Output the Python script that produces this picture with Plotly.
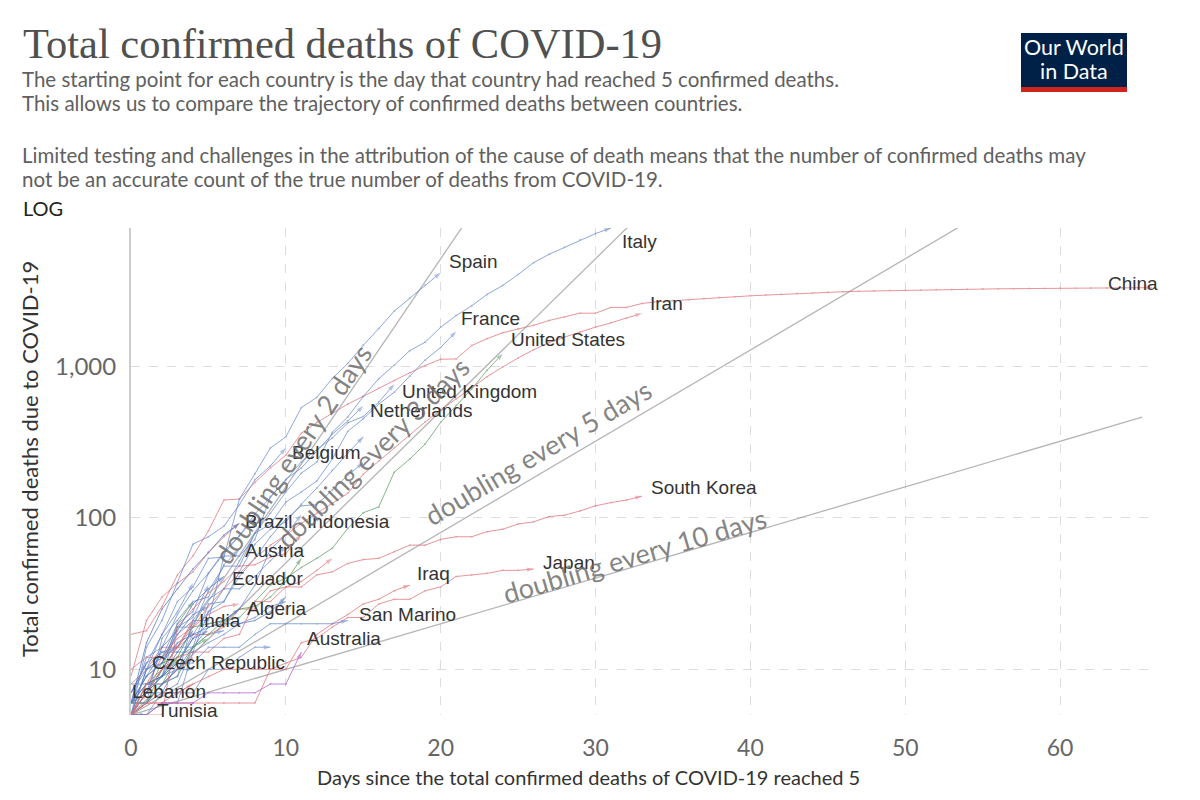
import math
import plotly.graph_objects as go

# ---------------- data (days since 5th confirmed death -> total deaths) ----------------
CHINA = [17, 18, 26, 42, 56, 82, 131, 133, 171, 213, 259, 361, 425, 491, 563, 633, 718, 805, 905, 1012,
         1112, 1117, 1369, 1521, 1663, 1766, 1864, 2003, 2116, 2238, 2238, 2443, 2445, 2595, 2665, 2717,
         2746, 2790, 2837, 2872, 2914, 2947, 2983, 3015, 3044, 3072, 3100, 3123, 3139, 3161, 3172, 3180,
         3193, 3203, 3217, 3230, 3241, 3249, 3253, 3259, 3274, 3274, 3281, 3285, 3291, 3296, 3299]
ITALY = [7, 10, 12, 17, 21, 29, 34, 52, 79, 107, 148, 197, 233, 366, 463, 631, 827, 1016, 1266, 1441,
         1809, 2158, 2503, 2978, 3405, 4032, 4825, 5476, 6077, 6820, 7503, 8165]
SPAIN = [5, 10, 17, 28, 35, 54, 55, 133, 195, 289, 342, 533, 623, 830, 1043, 1375, 1772, 2311, 2808, 3434, 4145]
FRANCE = [6, 9, 11, 19, 19, 33, 48, 48, 79, 91, 127, 148, 175, 244, 372, 450, 562, 674, 860, 1100, 1331, 1696]
UNITED_STATES = [6, 7, 11, 12, 14, 17, 21, 22, 28, 36, 40, 47, 54, 63, 85, 108, 118, 200, 244, 307, 427,
                 552, 706, 942, 1209]
IRAN = [5, 8, 12, 16, 19, 26, 34, 43, 54, 66, 77, 92, 107, 124, 145, 194, 237, 291, 354, 429, 514, 611,
        724, 853, 988, 1135, 1284, 1433, 1556, 1685, 1812, 1934, 2077, 2234]
UNITED_KINGDOM = [6, 8, 8, 9, 21, 21, 56, 56, 72, 138, 178, 234, 282, 336, 423, 466, 580, 761]
NETHERLANDS = [5, 10, 12, 20, 24, 43, 58, 76, 106, 136, 179, 213, 276, 356, 435, 546]
BELGIUM = [5, 14, 21, 37, 67, 75, 88, 122, 178, 220, 289]
BRAZIL = [6, 15, 25, 34, 46, 59, 77, 92]
INDONESIA = [5, 5, 5, 19, 25, 32, 38, 48, 49, 55, 58, 78]
AUSTRIA = [5, 6, 16, 21, 28, 30, 49, 62]
ECUADOR = [5, 7, 14, 18, 27, 34, 41]
IRAQ = [5, 6, 6, 7, 8, 9, 10, 10, 10, 10, 11, 12, 17, 20, 23, 27, 29, 33, 36]
JAPAN = [5, 6, 6, 6, 6, 6, 6, 6, 6, 10, 10, 15, 16, 19, 22, 22, 27, 29, 29, 33, 35, 41, 42, 43, 45, 45, 46]
SOUTH_KOREA = [5, 8, 10, 12, 13, 13, 16, 17, 28, 28, 35, 35, 42, 44, 50, 53, 54, 60, 66, 66, 72, 75, 75,
               81, 84, 91, 94, 102, 104, 111, 120, 126, 131, 139]
ALGERIA = [6, 9, 11, 15, 17, 19, 21, 25]
SAN_MARINO = [5, 7, 7, 11, 11, 14, 14, 14, 17, 20, 20, 20, 20, 20, 21]
INDIA = [5, 7, 10, 14, 21]
AUSTRALIA = [5, 5, 6, 6, 6, 7, 7, 7, 7, 8, 8, 13]
CZECH_REPUBLIC = [7, 11]
LEBANON = [5, 7]
TUNISIA = [5, 5]
# unlabelled countries
GERMANY = [6, 8, 9, 11, 17, 24, 28, 44, 67, 84, 94, 123, 157, 206, 267, 342]
SWITZERLAND = [7, 11, 13, 14, 14, 27, 28, 41, 54, 75, 98, 120, 122, 153, 191, 231]
SWEDEN = [6, 7, 10, 11, 16, 20, 21, 25, 36, 62, 77, 105]
PORTUGAL = [6, 12, 14, 23, 33, 43, 60, 76, 100]
DENMARK = [6, 9, 13, 13, 13, 24, 34, 34, 41, 52, 65]
GREECE = [5, 5, 6, 6, 13, 15, 17, 20, 22, 26, 28]
NORWAY = [5, 6, 7, 7, 7, 10, 10, 12, 14, 14]
IRELAND = [6, 7, 9, 19, 22, 36]
LUXEMBOURG = [8, 8, 9, 15]
POLAND = [5, 5, 7, 8, 14, 17, 18]
ROMANIA = [7, 11, 17, 24, 37]
HUNGARY = [6, 7, 9, 10, 10]
TURKEY = [9, 21, 30, 37, 44, 59, 75, 92]
PHILIPPINES = [10, 12, 12, 14, 17, 17, 19, 25, 25, 33, 35, 38, 45, 54]
MALAYSIA = [8, 10, 14, 14, 19, 23, 26, 27]
ISRAEL = [5, 8, 8, 10, 12]
PAKISTAN = [5, 6, 7, 7, 8]
CANADA = [5, 8, 9, 12, 19, 20, 21, 25, 26, 30, 38, 54]
DOMINICAN_REPUBLIC = [6, 6, 10, 20, 28]
PANAMA = [6, 6, 8, 9, 14, 16]
MEXICO = [5, 6, 8, 12]
ARGENTINA = [6, 8, 9, 13, 18]
PERU = [5, 7, 9, 11, 16, 18]
EGYPT = [6, 6, 8, 10, 14, 19, 20, 20, 21, 24, 30]
MOROCCO = [5, 10, 11, 17, 23, 26]

DOUBLING_DAYS = [2, 3, 5, 10]
DOUBLING_START = 5
DOUBLING_LAST_DAY = 65.3
X_TICKS = [0, 10, 20, 30, 40, 50, 60]
Y_TICKS = [10, 100, 1000]
Y_TICK_TEXT = ["10", "100", "1,000"]

# (name, values, region, show label)
SERIES = [
    ("Germany", GERMANY, "eu", False), ("Switzerland", SWITZERLAND, "eu", False),
    ("Sweden", SWEDEN, "eu", False), ("Portugal", PORTUGAL, "eu", False),
    ("Denmark", DENMARK, "eu", False), ("Greece", GREECE, "eu", False),
    ("Norway", NORWAY, "eu", False), ("Ireland", IRELAND, "eu", False),
    ("Luxembourg", LUXEMBOURG, "eu", False), ("Poland", POLAND, "eu", False),
    ("Romania", ROMANIA, "eu", False), ("Hungary", HUNGARY, "eu", False),
    ("Turkey", TURKEY, "as", False), ("Philippines", PHILIPPINES, "as", False),
    ("Malaysia", MALAYSIA, "as", False), ("Israel", ISRAEL, "as", False),
    ("Pakistan", PAKISTAN, "as", False), ("Canada", CANADA, "na", False),
    ("Dominican Republic", DOMINICAN_REPUBLIC, "na", False), ("Panama", PANAMA, "na", False),
    ("Mexico", MEXICO, "na", False), ("Argentina", ARGENTINA, "sa", False),
    ("Peru", PERU, "sa", False), ("Egypt", EGYPT, "af", False), ("Morocco", MOROCCO, "af", False),
    ("China", CHINA, "as", True), ("Italy", ITALY, "eu", True), ("Spain", SPAIN, "eu", True),
    ("France", FRANCE, "eu", True), ("United States", UNITED_STATES, "na", True),
    ("Iran", IRAN, "as", True), ("United Kingdom", UNITED_KINGDOM, "eu", True),
    ("Netherlands", NETHERLANDS, "eu", True), ("Belgium", BELGIUM, "eu", True),
    ("Brazil", BRAZIL, "sa", True), ("Indonesia", INDONESIA, "as", True),
    ("Austria", AUSTRIA, "eu", True), ("Ecuador", ECUADOR, "sa", True),
    ("Iraq", IRAQ, "as", True), ("Japan", JAPAN, "as", True),
    ("South Korea", SOUTH_KOREA, "as", True), ("Algeria", ALGERIA, "af", True),
    ("San Marino", SAN_MARINO, "eu", True), ("India", INDIA, "as", True),
    ("Australia", AUSTRALIA, "oc", True), ("Czech Republic", CZECH_REPUBLIC, "eu", True),
    ("Lebanon", LEBANON, "as", True), ("Tunisia", TUNISIA, "af", True),
]

# ---------------- styles ----------------
REGION_COLOR = {"eu": "#6a8bd0", "as": "#e0727a", "na": "#5e9f62", "sa": "#5674bd",
                "af": "#5a7cc4", "oc": "#b15ed0"}
# label nudges in pixels (dx right, dy up)
LABEL_NUDGE = {
    "Spain": (6, 11), "Italy": (9, -13), "Iran": (6, 10), "China": (7, 4), "France": (3, 13),
    "United States": (6, 14), "United Kingdom": (6, -7), "Netherlands": (5, -4), "Belgium": (4, -5),
    "Brazil": (4, 2), "Indonesia": (4, 13), "Austria": (4, -1), "Ecuador": (6, -2), "Iraq": (5, 12),
    "Japan": (7, 6), "South Korea": (7, 9), "Algeria": (6, 1), "San Marino": (9, 6), "India": (4, 0),
    "Australia": (4, 14), "Czech Republic": (4, 1), "Lebanon": (-16, 1), "Tunisia": (9, 5),
}
# doubling-line caption: (day on the line, perpendicular offset px)
DOUBLING_CAPTION = {2: (11.1, 13), 3: (16.4, 18), 5: (26.9, 20), 10: (32.7, 11)}

PAGE_OFF = 8                      # default body margin of the html page
W, H = 1192, 792
ML, MT = 131 - PAGE_OFF, 228 - PAGE_OFF
PW, PH = 1022, 487
MR, MB = W - ML - PW, H - MT - PH
X_MAX = 66
Y_MIN, Y_MAX = 5, 8165


def px(x):
    return (x - PAGE_OFF - ML) / PW


def py(y):
    return (MT + PH - (y - PAGE_OFF)) / PH


fig = go.Figure()

# doubling reference lines
for d in DOUBLING_DAYS:
    fig.add_trace(go.Scatter(
        x=[0, DOUBLING_LAST_DAY],
        y=[DOUBLING_START, DOUBLING_START * 2 ** (DOUBLING_LAST_DAY / d)],
        mode="lines", line=dict(color="rgba(120,120,120,0.55)", width=1.3),
        hoverinfo="skip", showlegend=False))

# country lines
for name, vals, reg, _ in SERIES:
    n = len(vals)
    col = REGION_COLOR[reg]
    fig.add_trace(go.Scatter(
        x=list(range(n)), y=vals, mode="lines+markers", name=name,
        line=dict(color=col, width=1),
        marker=dict(color=col, size=[2] * (n - 1) + [7],
                    symbol=["circle"] * (n - 1) + ["arrow"], angleref="previous",
                    line=dict(width=0)),
        opacity=0.75, showlegend=False))

ann = []
# country labels at line ends
for name, vals, reg, show in SERIES:
    if not show:
        continue
    dx, dy = LABEL_NUDGE.get(name, (5, 0))
    ann.append(dict(x=len(vals) - 1, y=math.log10(vals[-1]), xref="x", yref="y",
                    text=name, showarrow=False,
                    xanchor="right" if name == "China" else "left", yanchor="middle",
                    xshift=dx, yshift=dy,
                    font=dict(family="Liberation Sans, Arial", size=19, color="#333")))

# doubling captions
xpx_per_day = PW / X_MAX
ypx_per_dec = PH / (math.log10(Y_MAX) - math.log10(Y_MIN))
for d in DOUBLING_DAYS:
    day, perp = DOUBLING_CAPTION[d]
    theta = math.atan((ypx_per_dec * math.log10(2) / d) / xpx_per_day)
    ann.append(dict(x=day, y=math.log10(DOUBLING_START) + day / d * math.log10(2), xref="x", yref="y",
                    text=f"doubling every {d} days", showarrow=False,
                    textangle=-math.degrees(theta), xanchor="center", yanchor="middle",
                    xshift=-perp * math.sin(theta), yshift=perp * math.cos(theta),
                    font=dict(family="Lato", size=27, color="rgba(110,110,110,0.85)")))

# header text
ann.append(dict(x=px(21), y=py(44), xref="paper", yref="paper", xanchor="left", yanchor="middle",
                text="Total confirmed deaths of COVID-19", showarrow=False,
                font=dict(family="Liberation Serif", size=42.5, color="#505050")))
subs = [("The starting point for each country is the day that country had reached 5 confirmed deaths.", 79),
        ("This allows us to compare the trajectory of confirmed deaths between countries.", 103),
        ("Limited testing and challenges in the attribution of the cause of death means that the number of confirmed deaths may", 155),
        ("not be an accurate count of the true number of deaths from COVID-19.", 179)]
for t, yy in subs:
    ann.append(dict(x=px(21), y=py(yy), xref="paper", yref="paper", xanchor="left", yanchor="middle",
                    text=t, showarrow=False, borderpad=0,
                    font=dict(family="Lato", size=20.5, color="#606060")))
ann.append(dict(x=px(21), y=py(208), xref="paper", yref="paper", xanchor="left", yanchor="middle",
                text="LOG", showarrow=False, font=dict(family="Lato", size=20, color="#222")))

# logo
ann.append(dict(x=px(1074), y=py(47), xref="paper", yref="paper", xanchor="center", yanchor="middle",
                text="Our World", showarrow=False, borderpad=0,
                font=dict(family="Lato", size=21.5, color="white")))
ann.append(dict(x=px(1074), y=py(71), xref="paper", yref="paper", xanchor="center", yanchor="middle",
                text="in Data", showarrow=False, borderpad=0,
                font=dict(family="Lato", size=21.5, color="white")))

# axis titles
ann.append(dict(x=px(588), y=py(777), xref="paper", yref="paper", xanchor="center", yanchor="middle",
                text="Days since the total confirmed deaths of COVID-19 reached 5", showarrow=False,
                font=dict(family="Lato", size=20, color="#333")))
ann.append(dict(x=px(29), y=py(459), xref="paper", yref="paper", xanchor="center", yanchor="middle",
                text="Total confirmed deaths due to COVID-19", textangle=-90, showarrow=False,
                font=dict(family="Lato", size=22, color="#333")))

shapes = [
    dict(type="rect", xref="paper", yref="paper", x0=px(1021), x1=px(1127), y0=py(92), y1=py(33),
         fillcolor="#002147", line=dict(width=0), layer="above"),
    dict(type="rect", xref="paper", yref="paper", x0=px(1021), x1=px(1127), y0=py(92), y1=py(87),
         fillcolor="#ce261e", line=dict(width=0), layer="above"),
]

fig.update_layout(
    width=W, height=H, margin=dict(l=ML, r=MR, t=MT, b=MB),
    paper_bgcolor="white", plot_bgcolor="white", showlegend=False,
    annotations=ann, shapes=shapes,
    xaxis=dict(range=[0, X_MAX], tickvals=X_TICKS, showgrid=True, gridcolor="#dddddd",
               griddash="dash", gridwidth=1, zeroline=False, showline=False,
               ticks="outside", ticklen=12, tickcolor="rgba(0,0,0,0)",
               tickfont=dict(family="Lato", size=23, color="#666")),
    yaxis=dict(type="log", range=[math.log10(Y_MIN), math.log10(Y_MAX)], tickvals=Y_TICKS,
               ticktext=Y_TICK_TEXT, showgrid=True, gridcolor="#dddddd", griddash="dash",
               gridwidth=1, zeroline=False, showline=True, linecolor="#cccccc", linewidth=2,
               ticks="outside", ticklen=8, tickcolor="rgba(0,0,0,0)",
               tickfont=dict(family="Lato", size=24, color="#666")),
)

fig.write_html("out.html")
